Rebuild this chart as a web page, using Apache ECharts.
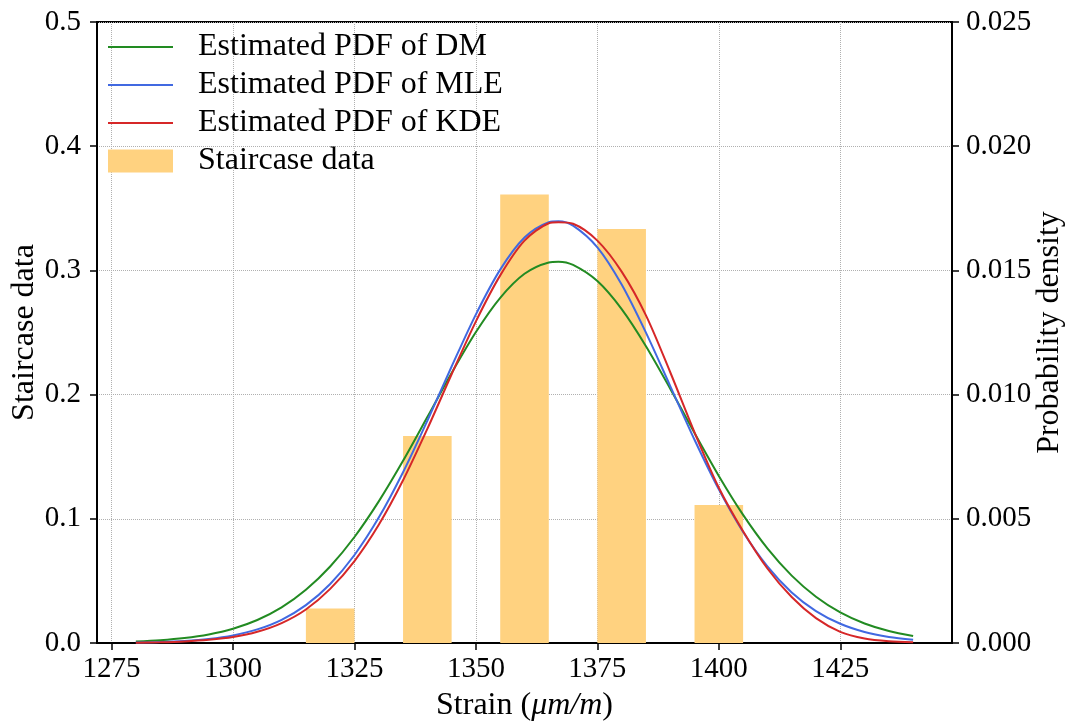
<!DOCTYPE html>
<html>
<head>
<meta charset="utf-8">
<script src="https://cdn.jsdelivr.net/npm/echarts@6/dist/echarts.min.js"></script>
<style>
html,body{margin:0;padding:0;background:#fff;}
#chart{width:1071px;height:722px;}
</style>
</head>
<body>
<div id="chart"></div>
<script>
// ---- data ----
const strain = [1280,1285,1290,1295,1300,1305,1310,1315,1320,1325,1330,1335,1340,1345,1350,1355,1360,1365,1367,1370,1375,1380,1385,1390,1395,1400,1405,1410,1415,1420,1425,1430,1435,1440];
const pdfDM  = [0.000060,0.000112,0.000200,0.000346,0.000577,0.000927,0.001435,0.002143,0.003081,0.004267,0.005700,0.007334,0.009095,0.010869,0.012519,0.013896,0.014864,0.015321,0.015350,0.015219,0.014569,0.013441,0.011950,0.010239,0.008453,0.006726,0.005158,0.003811,0.002714,0.001862,0.001231,0.000785,0.000482,0.000286];
const pdfMLE = [0.000019,0.000041,0.000084,0.000164,0.000306,0.000547,0.000934,0.001525,0.002377,0.003544,0.005048,0.006875,0.008948,0.011130,0.013231,0.015032,0.016323,0.016941,0.016980,0.016803,0.015929,0.014433,0.012497,0.010343,0.008181,0.006184,0.004469,0.003085,0.002036,0.001285,0.000774,0.000446,0.000246,0.000129];
const pdfKDE = [0.000012,0.000028,0.000062,0.000128,0.000240,0.000450,0.000800,0.001350,0.002180,0.003300,0.004760,0.006550,0.008620,0.010820,0.012950,0.014800,0.016200,0.016900,0.016940,0.016880,0.016200,0.014950,0.013190,0.010900,0.008480,0.006250,0.004500,0.003000,0.001850,0.001000,0.000450,0.000180,0.000070,0.000030];
const barCenters = [1320,1340,1360,1380,1400];
const barValues  = [0.0278,0.1667,0.3611,0.3333,0.1111];
const xTicks = [1275,1300,1325,1350,1375,1400,1425];
const leftTicks = [0.0,0.1,0.2,0.3,0.4,0.5];
const rightTicks = [0.000,0.005,0.010,0.015,0.020,0.025];
const seriesNames = ['Estimated PDF of DM','Estimated PDF of MLE','Estimated PDF of KDE','Staircase data'];

// ---- chart ----
const FONT = 'Liberation Serif';
const FS_TICK = 29;
const FS_TEXT = 32;
const BAR_HALF_WIDTH = 5; // in strain units
const LINE_ICON = 'path://M0,0 H32 V1 H0 Z';
const chart = echarts.init(document.getElementById('chart'), null, {renderer:'canvas'});

function pairs(xs, ys){ return xs.map((x,i)=>[x, ys[i]]); }

const gridLine = {show:true, lineStyle:{color:'#b0b0b0', type:'dotted', width:1}};
const axisLine = {show:true, lineStyle:{color:'#000', width:2}};
const axisTick = {show:true, inside:false, length:7, lineStyle:{color:'#000', width:1.5}};

const option = {
  backgroundColor:'#fff',
  animation:false,
  textStyle:{fontFamily:FONT},
  grid:{left:97, right:119, top:22, bottom:79, containLabel:false, outerBoundsMode:'none',
        show:true, borderColor:'#000', borderWidth:2, backgroundColor:'transparent'},
  legend:{
    left:108, top:31, orient:'vertical', padding:0,
    itemWidth:65, itemHeight:23, itemGap:6,
    data:[
      {name:seriesNames[0], icon:LINE_ICON},
      {name:seriesNames[1], icon:LINE_ICON},
      {name:seriesNames[2], icon:LINE_ICON},
      {name:seriesNames[3], icon:'rect'}
    ],
    textStyle:{fontFamily:FONT, fontSize:FS_TEXT, lineHeight:32, color:'#000', padding:[0,0,0,20]}
  },
  xAxis:{
    type:'value', min:1272, max:1448,
    name:'{n|Strain (}{i|μm/m}{n|)}',
    nameLocation:'middle', nameGap:47, nameMoveOverlap:false,
    nameTextStyle:{fontFamily:FONT, fontSize:FS_TEXT, color:'#000',
      rich:{
        n:{fontFamily:FONT, fontSize:FS_TEXT, color:'#000'},
        i:{fontFamily:FONT, fontSize:FS_TEXT, color:'#000', fontStyle:'italic'}
      }},
    axisLine:axisLine,
    axisTick:Object.assign({customValues:xTicks}, axisTick),
    axisLabel:{customValues:xTicks, fontFamily:FONT, fontSize:FS_TICK, color:'#000', margin:12,
      formatter:v=>String(Math.round(v))},
    splitLine:gridLine
  },
  yAxis:[
    {
      type:'value', min:0, max:0.5, interval:0.1, position:'left',
      name:'Staircase data', nameLocation:'middle', nameGap:56, nameRotate:90, nameMoveOverlap:false,
      nameTextStyle:{fontFamily:FONT, fontSize:FS_TEXT, color:'#000'},
      axisLine:axisLine, axisTick:axisTick,
      axisLabel:{fontFamily:FONT, fontSize:FS_TICK, color:'#000', margin:16,
        formatter:v=>{const t=leftTicks.find(k=>Math.abs(k-v)<1e-9); return (t===undefined?v:t).toFixed(1);}},
      splitLine:gridLine
    },
    {
      type:'value', min:0, max:0.025, interval:0.005, position:'right',
      name:'Probability density', nameLocation:'middle', nameGap:82, nameRotate:90, nameMoveOverlap:false,
      nameTextStyle:{fontFamily:FONT, fontSize:FS_TEXT, color:'#000'},
      axisLine:axisLine, axisTick:axisTick,
      axisLabel:{fontFamily:FONT, fontSize:FS_TICK, color:'#000', margin:14,
        formatter:v=>{const t=rightTicks.find(k=>Math.abs(k-v)<1e-9); return (t===undefined?v:t).toFixed(3);}},
      splitLine:{show:false}
    }
  ],
  series:[
    {
      name:seriesNames[3], type:'custom', xAxisIndex:0, yAxisIndex:0, z:1,
      itemStyle:{color:'#FFD280'},
      encode:{x:0, y:1},
      data:pairs(barCenters, barValues),
      renderItem:function(params, api){
        const x = api.value(0), h = api.value(1);
        const p0 = api.coord([x - BAR_HALF_WIDTH, h]);
        const p1 = api.coord([x + BAR_HALF_WIDTH, 0]);
        return {type:'rect', shape:{x:p0[0], y:p0[1], width:p1[0]-p0[0], height:p1[1]-p0[1]}, style:{fill:'#FFD280'}};
      }
    },
    {
      name:seriesNames[0], type:'line', yAxisIndex:1, z:3, smooth:0.3,
      showSymbol:false, symbol:'none',
      lineStyle:{color:'#228B22', width:2}, itemStyle:{color:'#228B22'},
      data:pairs(strain, pdfDM)
    },
    {
      name:seriesNames[1], type:'line', yAxisIndex:1, z:4, smooth:0.3,
      showSymbol:false, symbol:'none',
      lineStyle:{color:'#4169E1', width:2}, itemStyle:{color:'#4169E1'},
      data:pairs(strain, pdfMLE)
    },
    {
      name:seriesNames[2], type:'line', yAxisIndex:1, z:5, smooth:0.3,
      showSymbol:false, symbol:'none',
      lineStyle:{color:'#D62728', width:2}, itemStyle:{color:'#D62728'},
      data:pairs(strain, pdfKDE)
    }
  ]
};
chart.setOption(option);
</script>
</body>
</html>
